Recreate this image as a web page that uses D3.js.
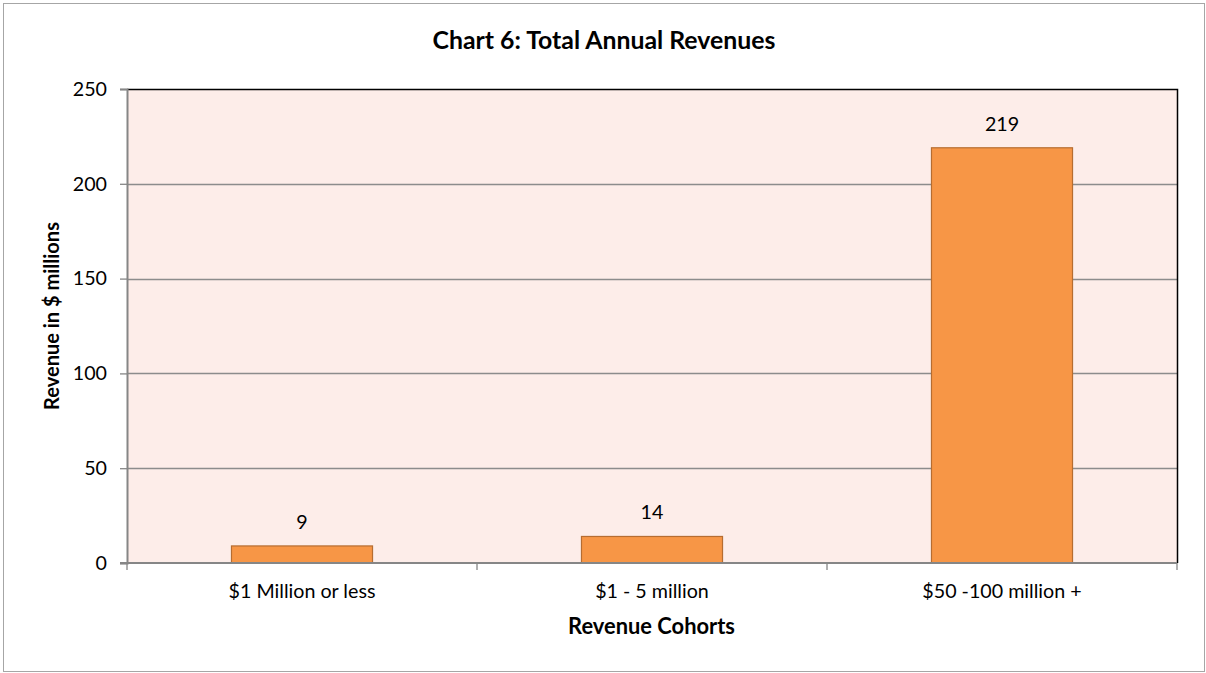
<!DOCTYPE html>
<html><head><meta charset="utf-8">
<script src="https://cdn.jsdelivr.net/npm/d3@7"></script>
<style>
html,body{margin:0;padding:0;background:#fff;}
text{font-family:Lato,"Open Sans",sans-serif;fill:#000;}
</style></head>
<body>
<svg id="c" width="1206" height="673"></svg>
<script>
const categories = ["$1 Million or less", "$1 - 5 million", "$50 -100 million +"];
const revenues = [9, 14, 219];
const yTicks = [0, 50, 100, 150, 200, 250];
const chartTitle = "Chart 6: Total Annual Revenues";
const xTitle = "Revenue Cohorts";
const yTitle = "Revenue in $ millions";

const svg = d3.select("#c");
const m = {left:127, right:1177, top:89, bottom:563};

// font size that makes a string a given width
function fit(str, width, weight){
  const t = svg.append("text").attr("font-size",100).attr("font-weight",weight||"normal").text(str);
  const w = t.node().getComputedTextLength();
  t.remove();
  return 100*width/w;
}
const fsTitle = fit(chartTitle, 343, "bold");
const fsTick = fit(categories[0], 147);
const fsXT = fit(xTitle, 167, "bold");
const fsYT = fit(yTitle, 188, "bold");

svg.append("rect").attr("x",3.5).attr("y",3.5).attr("width",1201).attr("height",668)
  .attr("fill","#fff").attr("stroke","#a6a6a6").attr("stroke-width",1);

const x = d3.scaleBand().domain(categories).range([m.left, m.right]).paddingInner(0.597).paddingOuter(0.2985);
const xb = d3.scaleBand().domain(categories).range([m.left, m.right]);
const y = d3.scaleLinear().domain([0,250]).range([m.bottom, m.top]);

svg.append("rect").attr("x",m.left).attr("y",m.top).attr("width",m.right-m.left).attr("height",m.bottom-m.top)
  .attr("fill","#fdede9");

// gridlines
svg.append("g").selectAll("line").data(yTicks.filter(d=>d>0 && d<250)).join("line")
  .attr("x1",m.left).attr("x2",m.right).attr("y1",d=>Math.round(y(d))+0.5).attr("y2",d=>Math.round(y(d))+0.5)
  .attr("stroke","#8c8c8c").attr("stroke-width",1.3);

// top/right border
svg.append("path").attr("d",`M${m.left},${m.top+0.5}H${m.right+0.5}V${m.bottom}`)
  .attr("fill","none").attr("stroke","#000").attr("stroke-width",1.5);

// bars
svg.append("g").selectAll("rect").data(revenues).join("rect")
  .attr("x",(d,i)=>x(categories[i])).attr("width",x.bandwidth())
  .attr("y",d=>y(d)).attr("height",d=>y(0)-y(d))
  .attr("fill","#f79646").attr("stroke","#b66d31").attr("stroke-width",1.2);

// value labels
svg.append("g").selectAll("text").data(revenues).join("text")
  .attr("x",(d,i)=>x(categories[i])+x.bandwidth()/2).attr("y",d=>y(d)-17)
  .attr("text-anchor","middle").attr("font-size",fsTick).text(d=>d);

// y axis
const yAxis = d3.axisLeft(y).tickValues(yTicks).tickSize(7).tickPadding(13);
const gy = svg.append("g").attr("transform",`translate(${m.left},0)`).call(yAxis);
gy.select(".domain").attr("stroke","#868686").attr("stroke-width",2);
gy.selectAll(".tick line").attr("stroke","#868686").attr("stroke-width",1.3);
gy.selectAll(".tick text").attr("font-size",fsTick).attr("font-family","Lato,sans-serif").attr("fill","#000");

// x axis
const gx = svg.append("g").attr("transform",`translate(0,${m.bottom})`);
gx.append("line").attr("x1",m.left-7).attr("x2",m.right).attr("y1",0).attr("y2",0).attr("stroke","#868686").attr("stroke-width",2);
const bounds = categories.map(c=>xb(c)).concat([m.right]);
gx.selectAll("line.t").data(bounds).join("line").attr("class","t")
  .attr("x1",d=>d).attr("x2",d=>d).attr("y1",0).attr("y2",7).attr("stroke","#868686").attr("stroke-width",1.3);
gx.selectAll("text").data(categories).join("text")
  .attr("x",d=>xb(d)+xb.bandwidth()/2).attr("y",35).attr("text-anchor","middle").attr("font-size",fsTick).text(d=>d);

// titles
svg.append("text").attr("x",604).attr("y",49).attr("text-anchor","middle").attr("font-size",fsTitle).attr("font-weight","bold").text(chartTitle);
svg.append("text").attr("x",651.5).attr("y",634).attr("text-anchor","middle").attr("font-size",fsXT).attr("font-weight","bold").text(xTitle);
svg.append("text").attr("transform",`translate(59,316) rotate(-90)`).attr("text-anchor","middle")
  .attr("font-size",fsYT).attr("font-weight","bold").text(yTitle);
</script>
</body></html>
